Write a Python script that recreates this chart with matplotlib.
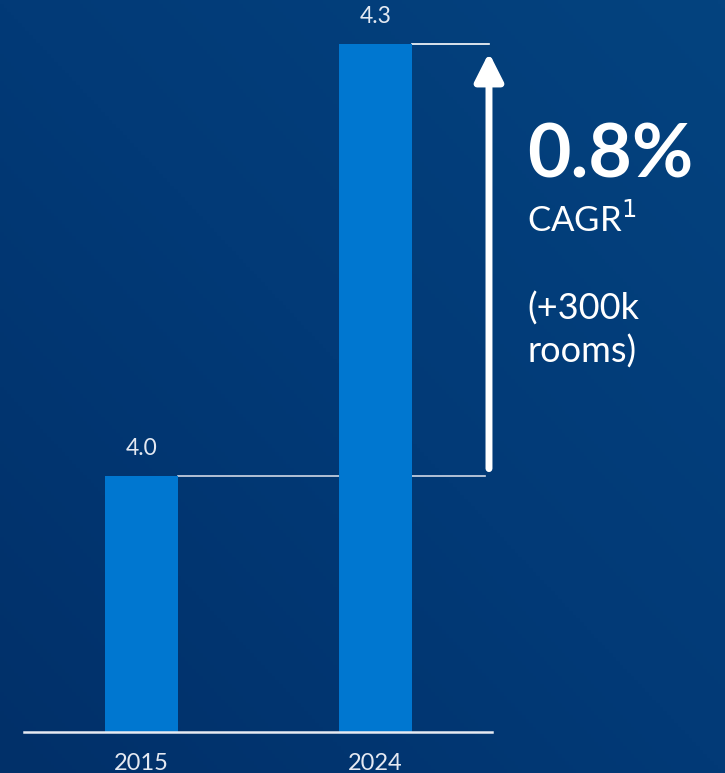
import numpy as np
import matplotlib.pyplot as plt
from matplotlib.colors import LinearSegmentedColormap

# hotel room supply, millions
years = ['2015', '2024']
rooms_m = [4.0, 4.3]
value_labels = ['4.0', '4.3']
cagr_text = '0.8%'
cagr_sub = 'CAGR$^{1}$'
delta_lines = ['(+300k', 'rooms)']

bar_color = '#0077d0'
font = 'Lato'
thin = '#e4e9f2'

fig = plt.figure(figsize=(7.25, 7.73), dpi=100)

# background gradient, darker bottom-left to lighter top-right
bg = fig.add_axes([0, 0, 1, 1])
bg.set_axis_off()
gx, gy = np.meshgrid(np.linspace(0, 1, 200), np.linspace(0, 1, 200))
grad = (gx + gy) / 2
cmap = LinearSegmentedColormap.from_list('bg', ['#013069', '#023a77', '#04437f'])
bg.imshow(grad, cmap=cmap, origin='lower', extent=[0, 1, 0, 1], aspect='auto')

base = 3.822
ax = fig.add_axes([0, 41 / 773, 1, 732 / 773])
ax.patch.set_alpha(0)
x = np.arange(len(years))
ax.bar(x, np.array(rooms_m) - base, bottom=base, width=0.312, color=bar_color, zorder=2)
ax.set_xlim(-0.6047, 2.4936)
ax.set_ylim(base, 4.3306)

for xi, v, lab in zip(x, rooms_m, value_labels):
    ax.annotate(lab, (xi, v), xytext=(0, 12), textcoords='offset points',
                ha='center', va='bottom', color=thin, fontsize=16.5, family=font)

# baseline
ax.plot([-0.5, 1.5], [base, base], color='#e6eaf2', lw=1.8, zorder=3, clip_on=False)

# reference lines at both bar tops
ax.plot([0.156, 1.47], [rooms_m[0], rooms_m[0]], color='#d0d8e6', lw=1.2, zorder=1)
ax.plot([1.156, 1.485], [rooms_m[1], rooms_m[1]], color='white', lw=1.2, zorder=1)

ax.annotate('', xy=(1.485, rooms_m[1] - 0.006), xytext=(1.485, rooms_m[0] + 0.005),
            arrowprops=dict(arrowstyle='-|>,head_width=0.43,head_length=0.85',
                            mutation_scale=20, lw=5, color='white',
                            shrinkA=0, shrinkB=0))

ax.set_xticks(x)
ax.set_xticklabels(years)
ax.tick_params(axis='x', length=0, pad=15, labelsize=17, colors=thin)
for t in ax.get_xticklabels():
    t.set_family(font)
ax.set_yticks([])
for s in ax.spines.values():
    s.set_visible(False)

tx = 527 / 725
fig.text(tx, 1 - 178 / 773, cagr_text, color='white', fontsize=54,
         fontweight='bold', family=font, va='baseline', ha='left')
fig.text(tx, 1 - 232 / 773, cagr_sub, color='white', fontsize=25,
         family=font, va='baseline', ha='left')
for line, yb in zip(delta_lines, [320, 363]):
    fig.text(tx, 1 - yb / 773, line, color='white', fontsize=26,
             family=font, va='baseline', ha='left')

fig.savefig('out.png', dpi=100)
